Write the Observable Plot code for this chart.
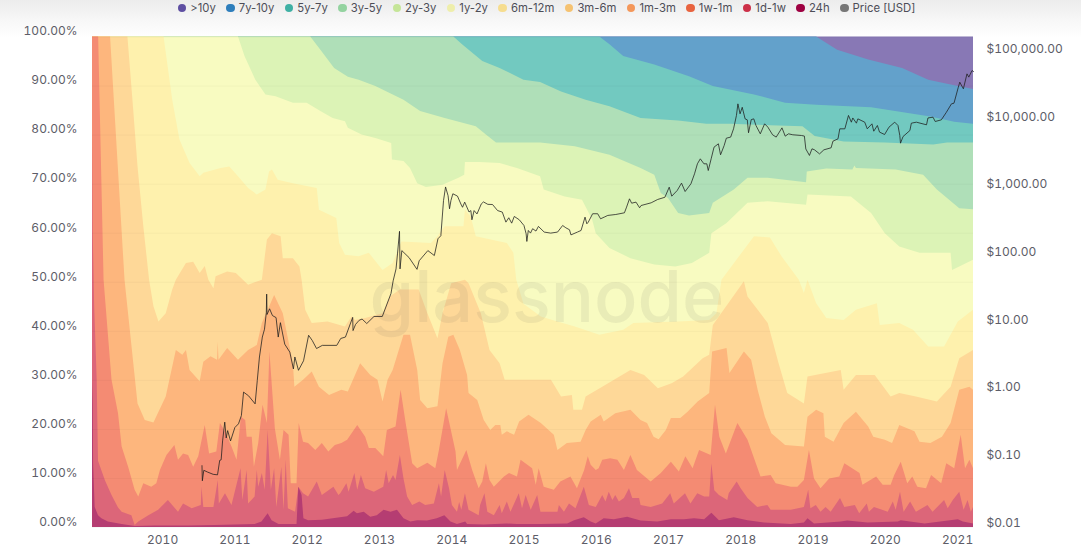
<!DOCTYPE html>
<html>
<head>
<meta charset="utf-8">
<script src="https://cdn.jsdelivr.net/npm/d3@7"></script>
<script src="https://cdn.jsdelivr.net/npm/@observablehq/plot@0.6"></script>
<style>
html,body{margin:0;padding:0;background:#fff;overflow:hidden}
body{width:1081px;height:549px;position:relative;font-family:Inter,sans-serif;background:linear-gradient(#ececec 0,#f7f7f7 20px,#fff 38px) no-repeat;background-size:100% 40px}
#legend{height:16px;position:relative;display:flex;justify-content:center;align-items:center;gap:10.5px;font-size:11.3px;color:#4d4d57;padding-left:12px}
#legend span.it{display:flex;align-items:center;gap:4px;white-space:nowrap}
#legend i{display:inline-block;width:8.5px;height:8.5px;border-radius:50%}
#charts{position:absolute;left:0;top:16px;width:1081px;height:533px}
#charts svg{position:absolute;left:0;top:0;background:transparent}
</style>
</head>
<body>
<div id="legend"></div>
<div id="charts"></div>
<script>
const startYear = 2009.03, endYear = 2021.22;
const yearTicks = [2010,2011,2012,2013,2014,2015,2016,2017,2018,2019,2020,2021];
const shareTicks = [0,10,20,30,40,50,60,70,80,90,100];
const priceTicks = [0.01,0.1,1,10,100,1000,10000,100000];

// Upper edge of each age band, [year, cumulative % of supply]
const topOver10y = [[2019.05,100],[2021.22,100]];
const top7to10y = [[2019.05,100],[2019.34,97.3],[2019.77,95.3],[2020.24,93.6],[2020.6,91.2],[2020.91,90.2],[2021.22,89.3]];
const top5to7y = [[2016.05,100],[2016.19,98.4],[2016.38,96],[2016.81,94.3],[2017.29,91.9],[2017.62,89.9],[2018.19,88.2],[2018.62,86.5],[2019.05,86.1],[2019.81,85.6],[2020.63,83.7],[2020.96,82.6],[2021.22,82.2]];
const top3to5y = [[2014.03,100],[2014.15,98.4],[2014.43,95],[2014.67,93.6],[2015,91.2],[2015.23,90.7],[2015.52,88.8],[2015.86,87.1],[2016.19,85.8],[2016.62,83.4],[2017.14,82.9],[2017.53,82.2],[2017.86,82.2],[2018.86,81.7],[2019.03,79.7],[2019.43,78.6],[2020,78.4],[2020.67,78],[2020.86,78.4],[2021.22,78.4]];
const top2to3y = [[2012.05,100],[2012.19,97.3],[2012.38,93.6],[2012.57,91.8],[2012.72,91.2],[2012.95,89.9],[2013.34,87.1],[2013.57,84.8],[2013.91,83.4],[2014.34,81.7],[2014.48,80],[2014.62,78.4],[2015.23,78.4],[2015.71,77.6],[2016.19,75.9],[2016.62,73.2],[2016.81,71.8],[2016.9,68.1],[2017,67.1],[2017.14,64],[2017.29,63.5],[2017.57,64],[2017.62,66.1],[2017.91,68.8],[2018.1,71.2],[2018.38,71.2],[2018.91,70.3],[2018.92,72.5],[2019.19,73.1],[2019.55,72.9],[2019.58,73.7],[2019.6,73.2],[2020.15,72.9],[2020.53,71.8],[2020.72,68.8],[2021.03,65],[2021.22,64.8]];
const top1to2y = [[2011.05,100],[2011.14,96],[2011.29,91.2],[2011.43,88.2],[2011.57,87.8],[2011.81,86.5],[2012,86.5],[2012.19,84.8],[2012.36,83.4],[2012.53,82.7],[2012.57,81.4],[2012.76,80],[2012.95,79.3],[2013.17,78.3],[2013.18,74.9],[2013.34,74.6],[2013.43,73.2],[2013.53,70.1],[2013.65,69.3],[2013.88,69.8],[2014.1,71.2],[2014.18,71.8],[2014.19,74.4],[2014.39,74.4],[2014.67,74.2],[2014.91,73.2],[2015.23,71.5],[2015.28,68.8],[2015.57,67.4],[2015.81,66.7],[2015.95,62.7],[2016,59.9],[2016.19,56.9],[2016.48,54.8],[2016.81,53.5],[2017.1,53.1],[2017.33,53.8],[2017.57,55.9],[2017.6,59.9],[2017.81,62],[2018.1,66.1],[2018.38,66.4],[2018.91,65.7],[2018.93,67.8],[2019.53,67.4],[2019.81,64],[2020,59.9],[2020.2,57.2],[2020.48,55.9],[2020.91,55.9],[2020.93,52.4],[2021.22,54.5]];
const top6to12m = [[2010.02,100],[2010.14,87.1],[2010.24,79],[2010.38,74.2],[2010.52,71.5],[2010.57,72.2],[2010.81,73.2],[2010.93,73.5],[2011.05,71.5],[2011.19,69.1],[2011.31,67.8],[2011.43,68.8],[2011.48,72.5],[2011.52,72.9],[2011.6,70.8],[2011.81,70.1],[2012.14,69.1],[2012.17,64.7],[2012.41,63],[2012.45,57.9],[2012.53,55.5],[2012.72,55.2],[2012.86,55.9],[2013.05,52.4],[2013.19,53.8],[2013.31,58.2],[2013.72,57.9],[2013.81,59.3],[2013.91,61.3],[2014.17,61.3],[2014.19,64.7],[2014.27,63.3],[2014.34,59.3],[2014.77,57.9],[2014.86,55.9],[2014.9,50.4],[2015,45.5],[2015.24,42.9],[2015.47,41.9],[2015.71,40.9],[2016.05,39.2],[2016.38,40.2],[2016.52,41.6],[2017.14,41.9],[2017.57,42.2],[2017.67,43.6],[2017.74,50.4],[2018.19,59.3],[2018.41,59],[2018.57,55.2],[2018.81,50.4],[2018.88,47.7],[2018.93,50.4],[2019.05,45.6],[2019.19,42.6],[2019.43,42.2],[2019.6,44.3],[2019.89,45.6],[2019.93,41.2],[2020.2,41.6],[2020.39,40.2],[2020.6,36.8],[2020.82,36.8],[2021.01,41.9],[2021.22,44.3]];
const top3to6m = [[2009.52,100],[2009.59,87],[2009.66,73.5],[2009.74,61.3],[2009.82,50.4],[2009.88,45],[2009.95,41.9],[2010.05,43.6],[2010.14,48.4],[2010.19,50.4],[2010.33,53.8],[2010.43,54.1],[2010.52,51.8],[2010.59,53.2],[2010.64,50.4],[2010.71,48.7],[2010.74,51.1],[2010.9,52.1],[2011.02,51.8],[2011.19,49.4],[2011.38,50.4],[2011.45,58.6],[2011.52,59.9],[2011.64,59.3],[2011.67,54.8],[2011.81,54.8],[2011.9,53.1],[2011.93,50.4],[2011.98,44.3],[2012.07,41.6],[2012.29,41.9],[2012.53,40.9],[2012.62,42.9],[2012.67,42.2],[2012.81,42.6],[2013.05,43.6],[2013.15,47],[2013.29,48.4],[2013.55,48.4],[2013.67,43.6],[2013.81,38.5],[2013.88,43.6],[2014,49.7],[2014.19,50.4],[2014.24,49.7],[2014.41,43.6],[2014.53,36.1],[2014.67,33.4],[2014.74,30],[2015.23,30],[2015.38,30],[2015.52,26.6],[2015.67,26.9],[2015.69,23.9],[2015.81,23.9],[2015.86,26.6],[2016.09,28.6],[2016.48,32],[2016.67,31],[2016.86,28.3],[2017.05,29.3],[2017.21,30.7],[2017.48,34.4],[2017.57,35.1],[2017.62,41.2],[2018.05,50.1],[2018.1,47],[2018.38,41.6],[2018.53,33.4],[2018.65,27.3],[2018.88,25.2],[2018.93,30.7],[2019.39,32],[2019.43,28],[2019.6,31],[2019.86,31],[2020.08,26.6],[2020.2,27.3],[2020.43,26.6],[2020.72,25.6],[2020.91,28.6],[2021.03,34.4],[2021.22,36.1]];
const top1to3m = [[2009.28,100],[2009.48,50.4],[2009.66,25.2],[2009.76,21.8],[2009.88,21.3],[2010.05,26.6],[2010.19,36.1],[2010.28,35.1],[2010.33,36.1],[2010.38,32],[2010.52,29.7],[2010.57,33.7],[2010.67,34.8],[2010.76,34.1],[2010.77,37.8],[2010.78,34.1],[2010.9,36.5],[2011.05,34.1],[2011.19,36.1],[2011.31,37.1],[2011.38,41.6],[2011.55,47.3],[2011.67,43.6],[2011.81,33.4],[2011.83,28.6],[2011.95,30],[2012.07,31.7],[2012.17,28.6],[2012.31,26.9],[2012.48,28],[2012.57,27.6],[2012.74,33.4],[2012.88,31],[2012.98,30],[2013.05,25.6],[2013.12,30],[2013.19,32],[2013.34,39.2],[2013.43,39.2],[2013.53,32],[2013.57,25.9],[2013.67,24.2],[2013.81,24.6],[2013.88,33.4],[2013.96,38.8],[2014.03,39.2],[2014.12,36.1],[2014.22,31],[2014.24,27.3],[2014.36,25.9],[2014.45,21.8],[2014.54,19.8],[2014.61,20.8],[2014.68,20.8],[2014.7,18.8],[2014.77,19.5],[2014.87,18.8],[2014.94,21.5],[2015.07,22.9],[2015.24,21.2],[2015.42,18.8],[2015.47,15.7],[2015.6,17.1],[2015.79,17.4],[2015.86,19.8],[2015.93,21.5],[2016.07,22.9],[2016.11,21.5],[2016.27,23.2],[2016.48,23.9],[2016.62,21.8],[2016.71,21.2],[2016.8,18.4],[2016.87,17.9],[2016.97,19.8],[2017.04,22.2],[2017.17,22.2],[2017.27,23.5],[2017.41,25.6],[2017.57,27.3],[2017.61,35.8],[2017.81,36.5],[2017.85,31.4],[2018.05,35.8],[2018.15,34.1],[2018.24,28],[2018.34,22.5],[2018.43,19.1],[2018.62,16.7],[2018.88,16.4],[2018.93,22.5],[2019.05,23.9],[2019.15,23.2],[2019.17,18.4],[2019.29,17.4],[2019.43,21.2],[2019.6,23.5],[2019.77,20.5],[2019.84,18.4],[2020,17.8],[2020.1,17.1],[2020.2,20.8],[2020.41,19.5],[2020.48,17.4],[2020.63,17.1],[2020.79,18.4],[2020.91,21.2],[2021.03,28],[2021.17,28.6],[2021.22,28]];
const top1wTo1m = [[2009.115,100],[2009.19,50.4],[2009.3,30],[2009.39,23.2],[2009.44,16.4],[2009.53,12.3],[2009.62,7.6],[2009.67,6.2],[2009.74,8.9],[2009.85,8.2],[2009.92,8.9],[2009.97,11.6],[2010.06,14.7],[2010.17,16.7],[2010.22,13.7],[2010.29,15],[2010.36,14.7],[2010.43,12.3],[2010.5,14.4],[2010.59,20.8],[2010.65,15],[2010.75,15.4],[2010.8,21.2],[2010.87,19.5],[2010.96,16.4],[2011.03,13.7],[2011.09,22.5],[2011.15,21.8],[2011.17,18.4],[2011.24,18.4],[2011.27,12.3],[2011.33,17.1],[2011.39,24.9],[2011.45,21.2],[2011.485,35.8],[2011.56,20.1],[2011.63,13.7],[2011.68,19.8],[2011.75,18.8],[2011.78,8.9],[2011.86,8.9],[2011.89,21.2],[2011.95,17.4],[2012.02,17.1],[2012.12,15.7],[2012.21,17.1],[2012.3,15.4],[2012.39,16.7],[2012.48,17.1],[2012.56,17.8],[2012.7,20.8],[2012.81,18.4],[2012.86,16.1],[2012.95,16.1],[2013.06,14.4],[2013.11,19.8],[2013.23,20.5],[2013.3,28],[2013.37,21.2],[2013.46,13],[2013.53,12],[2013.67,13.1],[2013.78,12],[2013.83,15.7],[2013.93,24.2],[2014.06,15.4],[2014.08,11.6],[2014.21,15.7],[2014.29,11.6],[2014.38,7.9],[2014.43,9.3],[2014.48,13],[2014.53,9.6],[2014.59,8.2],[2014.73,10.3],[2014.8,11],[2014.91,10.3],[2014.96,13.7],[2015.12,12],[2015.17,8.6],[2015.21,12],[2015.28,8.2],[2015.42,7.6],[2015.51,9.3],[2015.65,10.3],[2015.74,7.9],[2015.84,11.6],[2015.89,14.4],[2015.93,12.7],[2016,11.6],[2016.04,12],[2016.09,13.7],[2016.2,14],[2016.3,13.7],[2016.39,11.6],[2016.48,14.7],[2016.57,11.6],[2016.76,9.3],[2016.9,11],[2017.04,13.3],[2017.15,11.3],[2017.24,14.4],[2017.34,12],[2017.43,15.7],[2017.59,14.7],[2017.65,24.9],[2017.71,18.4],[2017.8,15],[2017.96,21.2],[2018.1,17.8],[2018.28,10.3],[2018.42,10.6],[2018.49,8.9],[2018.7,8.2],[2018.79,8.2],[2018.88,9.6],[2018.95,15.7],[2019.02,9.9],[2019.11,7.9],[2019.23,9.9],[2019.37,10.3],[2019.44,13],[2019.65,11],[2019.69,8.6],[2019.88,10.3],[2019.97,8.6],[2020.08,8.6],[2020.13,10.6],[2020.22,13.3],[2020.31,8.9],[2020.38,10.3],[2020.45,8.2],[2020.57,7.9],[2020.64,10.6],[2020.78,8.9],[2020.85,13],[2020.96,12],[2021.05,18.8],[2021.11,12],[2021.17,13.7],[2021.22,12]];
const top1dTo1w = [[2009.03,80],[2009.04,60],[2009.06,45],[2009.095,30],[2009.113,13.5],[2009.21,9.5],[2009.3,6.5],[2009.39,4],[2009.44,3.1],[2009.575,2.4],[2009.62,0.4],[2009.67,1.1],[2009.81,2.4],[2009.945,3.5],[2010.08,5.5],[2010.22,3.1],[2010.29,4.8],[2010.41,3.8],[2010.535,4.5],[2010.545,8.2],[2010.57,4.1],[2010.71,4.1],[2010.77,9.6],[2010.785,4.8],[2010.87,6.9],[2010.96,4.5],[2011.085,12],[2011.11,5.5],[2011.17,11.6],[2011.19,4.8],[2011.28,6.2],[2011.31,11.6],[2011.33,8.2],[2011.38,11],[2011.42,7.6],[2011.46,19.8],[2011.505,7.6],[2011.55,12],[2011.58,4.1],[2011.65,12.3],[2011.68,3.5],[2011.71,13.7],[2011.74,3.8],[2011.84,3.1],[2011.885,8.2],[2011.95,6.9],[2012.02,6.2],[2012.14,9.3],[2012.21,6.5],[2012.37,8.2],[2012.44,6.5],[2012.465,6.9],[2012.55,8.9],[2012.58,7.2],[2012.66,11],[2012.7,7.6],[2012.75,10.6],[2012.81,7.9],[2012.93,7.2],[2013.06,8.2],[2013.1,11.6],[2013.135,8.9],[2013.195,10.6],[2013.23,9.6],[2013.29,14.7],[2013.34,9.9],[2013.39,6.2],[2013.46,4.5],[2013.56,5.2],[2013.64,4.5],[2013.76,4.8],[2013.83,8.9],[2013.86,6.2],[2013.91,11.6],[2013.97,7.9],[2014.01,4.5],[2014.08,3.1],[2014.11,5.1],[2014.14,3.5],[2014.19,6.9],[2014.24,3.5],[2014.38,2.4],[2014.4,4.5],[2014.46,6.9],[2014.5,3.1],[2014.59,2.4],[2014.67,4.5],[2014.7,2.8],[2014.77,5.2],[2014.82,3.1],[2014.935,6.9],[2014.98,3.8],[2015.03,6.5],[2015.1,3.5],[2015.19,6.5],[2015.235,3.1],[2015.47,3.1],[2015.49,4.5],[2015.56,3.1],[2015.63,4.8],[2015.72,3.8],[2015.835,8.2],[2015.905,4.5],[2016,4.1],[2016.09,6.5],[2016.135,5.2],[2016.18,7.2],[2016.23,5.5],[2016.27,6.5],[2016.32,5.2],[2016.39,5.9],[2016.46,7.9],[2016.505,5.9],[2016.6,5.9],[2016.62,4.5],[2016.76,4.1],[2016.92,4.8],[2017.03,6.9],[2017.08,4.8],[2017.235,6.9],[2017.31,4.8],[2017.405,6.9],[2017.5,6.2],[2017.57,6.2],[2017.6,13],[2017.64,7.5],[2017.705,6.5],[2017.82,5.5],[2017.84,6.9],[2017.95,9.3],[2018.005,7.9],[2018.1,5.9],[2018.235,4.1],[2018.375,4.5],[2018.42,3.5],[2018.7,3.5],[2018.88,4.1],[2018.94,7.6],[2018.97,3.8],[2019.045,4.5],[2019.11,3.1],[2019.18,4.1],[2019.25,3.1],[2019.38,5.9],[2019.44,4.1],[2019.585,4.5],[2019.645,2.8],[2019.75,4.8],[2019.78,3.1],[2019.85,4.1],[2020.04,3.1],[2020.11,5.2],[2020.15,3.5],[2020.21,7.2],[2020.26,3.1],[2020.35,5.2],[2020.43,3.1],[2020.59,4.5],[2020.66,3.1],[2020.82,5.5],[2020.87,3.8],[2020.94,5.5],[2021.03,7.2],[2021.09,3.5],[2021.145,5.5],[2021.19,3.1],[2021.22,4.1]];
const top24h = [[2009.03,30],[2009.04,25],[2009.045,13],[2009.067,4.1],[2009.113,2.4],[2009.16,1.8],[2009.25,1.1],[2009.44,0.6],[2009.62,0.2],[2009.9,0.3],[2010.36,0.3],[2010.73,0.4],[2011.28,0.6],[2011.375,1.1],[2011.46,2.8],[2011.515,1.4],[2011.61,0.6],[2011.86,0.6],[2011.885,8.2],[2011.93,6.5],[2011.955,1.8],[2012.02,1.4],[2012.21,1.5],[2012.56,2.2],[2012.65,3.3],[2012.695,2.8],[2012.79,3.1],[2012.88,2.1],[2012.97,2.4],[2013.065,3.5],[2013.16,3.1],[2013.25,3.5],[2013.34,1.8],[2013.435,1.1],[2013.53,1.4],[2013.665,1.3],[2013.8,1.8],[2013.905,2.4],[2013.99,1.1],[2014.08,0.6],[2014.195,1.1],[2014.22,0.6],[2014.45,0.5],[2014.77,0.7],[2014.91,0.6],[2015.235,0.6],[2015.605,0.7],[2015.7,1.4],[2015.835,2],[2015.93,1.1],[2016,0.7],[2016.11,1.8],[2016.25,1.6],[2016.435,2.1],[2016.62,1.3],[2016.85,1.1],[2017.04,1.6],[2017.22,1.6],[2017.36,1.8],[2017.5,1.6],[2017.6,2.9],[2017.705,1.4],[2017.91,2],[2018.1,1.4],[2018.33,0.9],[2018.7,0.6],[2018.88,0.9],[2018.93,1.8],[2019.02,0.7],[2019.39,1.1],[2019.48,1.3],[2019.76,0.9],[2020.18,1.1],[2020.22,1.4],[2020.55,0.7],[2021.01,1.6],[2021.08,1.1],[2021.22,0.7]];

// Price in USD, [year, price]
const priceUsd = [[2010.545,0.082],[2010.55,0.049],[2010.57,0.07],[2010.62,0.066],[2010.7,0.061],[2010.76,0.06],[2010.79,0.098],[2010.81,0.1],[2010.83,0.19],[2010.86,0.36],[2010.88,0.21],[2010.9,0.27],[2010.94,0.19],[2011,0.3],[2011.05,0.34],[2011.09,0.45],[2011.12,1],[2011.19,0.88],[2011.28,0.67],[2011.31,1.48],[2011.34,3.3],[2011.38,6.5],[2011.41,8.5],[2011.435,15],[2011.44,28],[2011.445,14],[2011.48,17],[2011.52,13.5],[2011.57,12.6],[2011.6,6.5],[2011.63,10.6],[2011.69,5.1],[2011.76,3.9],[2011.81,2.2],[2011.83,3.3],[2011.88,2.1],[2011.95,2.9],[2012.02,6.9],[2012.07,5.8],[2012.13,4.4],[2012.21,4.9],[2012.41,4.9],[2012.465,6.2],[2012.53,6.5],[2012.63,12.7],[2012.635,8.1],[2012.67,10],[2012.72,11.5],[2012.76,12],[2012.825,10.3],[2012.925,13.1],[2013.04,13.1],[2013.16,28.6],[2013.19,44],[2013.23,66],[2013.25,110],[2013.278,237],[2013.285,66],[2013.31,123],[2013.41,97],[2013.52,65],[2013.55,87],[2013.67,123],[2013.76,104],[2013.81,184],[2013.85,204],[2013.887,676],[2013.915,1072],[2013.95,795],[2013.97,510],[2013.99,680],[2014.016,850],[2014.08,785],[2014.127,600],[2014.15,537],[2014.18,640],[2014.24,457],[2014.265,480],[2014.28,351],[2014.31,480],[2014.35,428],[2014.41,603],[2014.44,644],[2014.5,593],[2014.565,590],[2014.635,480],[2014.7,456],[2014.75,324],[2014.79,376],[2014.83,313],[2014.866,393],[2014.935,351],[2015,289],[2015.03,218],[2015.04,168],[2015.06,244],[2015.09,223],[2015.12,259],[2015.166,239],[2015.2,280],[2015.28,231],[2015.37,223],[2015.465,231],[2015.535,289],[2015.58,267],[2015.63,250],[2015.65,210],[2015.74,231],[2015.79,244],[2015.845,384],[2015.87,306],[2015.89,324],[2015.95,431],[2016.02,431],[2016.06,363],[2016.11,384],[2016.16,407],[2016.27,420],[2016.39,445],[2016.42,540],[2016.46,716],[2016.49,617],[2016.55,640],[2016.6,528],[2016.62,570],[2016.76,625],[2016.85,700],[2016.95,755],[2017.01,1064],[2017.045,783],[2017.12,950],[2017.18,1220],[2017.23,918],[2017.31,1192],[2017.36,1675],[2017.4,2355],[2017.44,2790],[2017.49,2355],[2017.53,2355],[2017.55,1875],[2017.59,2790],[2017.63,4150],[2017.69,4650],[2017.72,3200],[2017.77,4390],[2017.8,5630],[2017.86,5840],[2017.9,7740],[2017.94,12200],[2017.96,18100],[2017.99,12900],[2018.02,16100],[2018.06,10860],[2018.09,10500],[2018.107,6770],[2018.145,10600],[2018.18,10860],[2018.21,8670],[2018.27,6530],[2018.33,9180],[2018.375,8190],[2018.44,6320],[2018.49,5840],[2018.57,8000],[2018.615,6030],[2018.66,6530],[2018.72,6320],[2018.84,6170],[2018.88,6050],[2018.9,3900],[2018.95,3130],[2018.985,3920],[2019.02,3790],[2019.09,3300],[2019.15,3790],[2019.25,4060],[2019.275,5080],[2019.345,5500],[2019.37,7740],[2019.44,7740],[2019.49,12200],[2019.53,9700],[2019.55,11200],[2019.6,9380],[2019.62,10860],[2019.715,9700],[2019.75,7740],[2019.815,9170],[2019.84,7140],[2019.89,8670],[2019.92,6920],[2019.99,6380],[2020.05,8180],[2020.13,9700],[2020.175,8670],[2020.2,6170],[2020.21,4750],[2020.245,5950],[2020.34,7310],[2020.36,9380],[2020.43,9700],[2020.57,8870],[2020.59,11200],[2020.66,11500],[2020.69,9930],[2020.775,10500],[2020.845,13600],[2020.915,18100],[2020.95,18500],[2021.01,31900],[2021.03,37800],[2021.08,30200],[2021.13,50200],[2021.155,44900],[2021.2,56200],[2021.22,54300]];

const bandNames = [">10y","7y-10y","5y-7y","3y-5y","2y-3y","1y-2y","6m-12m","3m-6m","1m-3m","1w-1m","1d-1w","24h"];
const bandFills = ["#8878b5","#63a1cb","#72c9c0","#afdfb8","#dcf3b6","#f8fbc1","#fef1ad","#fed898","#fdb67d","#f48b73","#dc6679","#b53d72"];
const legendDots = ["#5e4fa2","#2e7ebc","#3fb0a4","#94d3a0","#c5e598","#eeeeab","#f6dd8f","#f5c271","#f4975a","#e8633f","#cc3048","#9e0142"];
const bandTops = [topOver10y,top7to10y,top5to7y,top3to5y,top2to3y,top1to2y,top6to12m,top3to6m,top1to3m,top1wTo1m,top1dTo1w,top24h];

// Legend
const legend = document.getElementById("legend");
bandNames.concat(["Price [USD]"]).forEach((n,i)=>{
  const s=document.createElement("span"); s.className="it";
  const dot=document.createElement("i"); dot.style.background=i<legendDots.length?legendDots[i]:"#777";
  s.appendChild(dot); s.appendChild(document.createTextNode(n)); legend.appendChild(s);
});

const common = {width:1081,height:533,marginLeft:92,marginRight:108,marginTop:20.5,marginBottom:22,
  style:{background:"transparent",fontFamily:"Inter,sans-serif",fontSize:"12px",color:"#5d5d68"}};
const xScale = {type:"linear",domain:[startYear,endYear],label:null};

const withStart = t => t[0][0]>startYear ? [[startYear,100],...t] : t;

const areas = Plot.plot({...common,
  x:xScale,
  y:{domain:[0,100],label:null},
  marks:[
    ...bandTops.map((t,i)=>Plot.areaY(withStart(t),{x:d=>d[0],y1:0,y2:d=>d[1],fill:bandFills[i],curve:"linear"})),
    Plot.gridY(shareTicks,{stroke:"#000",strokeOpacity:0.03}),
    Plot.text(["glassnode"],{frameAnchor:"middle",dx:14,dy:17,fontSize:72,fontWeight:500,fontFamily:"Inter,sans-serif",fill:"#555",fillOpacity:0.085}),
    Plot.axisX(yearTicks,{tickSize:0,tickPadding:8,tickFormat:d=>String(d),label:null,fontSize:12}),
    Plot.axisY(shareTicks,{tickSize:0,tickPadding:15,dy:-5.5,tickFormat:d=>d.toFixed(2)+"%",label:null,fontSize:12})
  ]});

const money = d3.format(",.2f");
const price = Plot.plot({...common,
  x:{...xScale,axis:null},
  y:{type:"log",domain:[0.01,175800],label:null},
  marks:[
    Plot.axisY(priceTicks,{anchor:"right",tickSize:0,tickPadding:13,dy:-4.5,tickFormat:d=>"$"+money(d),label:null,fontSize:12}),
    Plot.line(priceUsd,{x:d=>d[0],y:d=>d[1],stroke:"#1d1d1d",strokeOpacity:0.85,strokeWidth:0.9,curve:"linear"})
  ]});

const host=document.getElementById("charts");
host.appendChild(areas);
host.appendChild(price);
</script>
</body>
</html>
